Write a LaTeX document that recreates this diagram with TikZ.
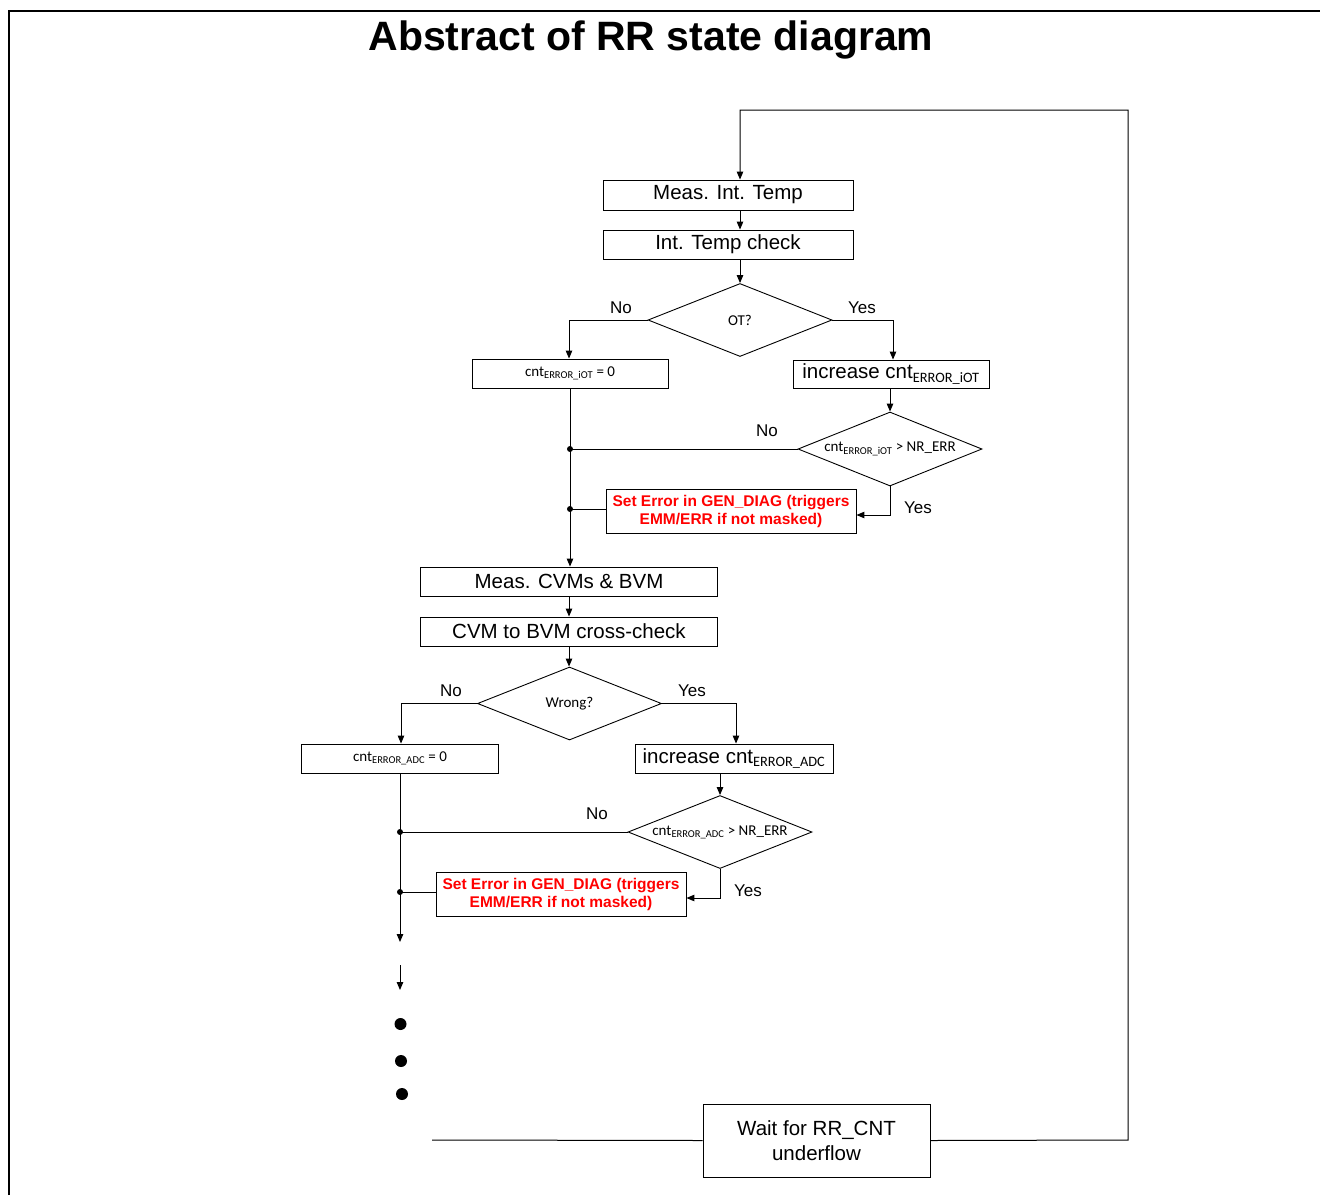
\documentclass[tikz,border=0pt]{standalone}
\usepackage{fontspec}
\setmainfont{Liberation Sans}
\newfontfamily\carl{Carlito}
\usetikzlibrary{shapes.geometric,arrows.meta}
\begin{document}
\begin{tikzpicture}[x=1pt,y=-1pt,
  line width=1pt,
  arr/.style={-{Triangle[length=8pt,width=6.5pt]}},
  box/.style={draw, line width=0.9pt, rectangle, inner sep=0pt, font=\fontsize{20.5}{25}\selectfont, align=center},
  smallbox/.style={box, font=\carl\fontsize{15}{18}\selectfont},
  errbox/.style={draw, line width=0.9pt, rectangle, inner sep=0pt, text=red, font=\bfseries\fontsize{15.5}{18}\selectfont, align=center, minimum width=250pt, minimum height=44pt},
  dia/.style={draw, diamond, aspect=2.5, line width=0.9pt, inner sep=0pt, minimum width=184pt, minimum height=73pt, font=\carl\fontsize{15}{18}\selectfont},
  lab/.style={font=\fontsize{17}{20}\selectfont},
  jdot/.style={circle, fill=black, inner sep=0pt, minimum size=6pt},
  bigdot/.style={circle, fill=black, inner sep=0pt, minimum size=12pt}]
\useasboundingbox (0,0) rectangle (1320,1195);
\draw[line width=2.5pt] (9,1195) -- (9,11) -- (1320,11);
\node[font=\bfseries\fontsize{41}{48}\selectfont] (title) at (651,40) {Abstract of RR state diagram};

% nodes
\node[box, minimum width=250pt, minimum height=30pt] (m1) at (728,195) {Meas. Int. Temp};
\node[box, minimum width=250pt, minimum height=29pt] (m2) at (728,244.5) {Int. Temp check};
\node[dia] (d1) at (740,320) {OT?};
\node[smallbox, minimum width=196pt, minimum height=29pt] (c1) at (570,373.5) {cnt\textsubscript{ERROR\_iOT} = 0};
\node[box, minimum width=196pt, minimum height=28pt] (i1) at (891,374) {increase cnt\textsubscript{\carl ERROR\_iOT}};
\node[dia, minimum height=74pt] (d2) at (890,449) {cnt\textsubscript{ERROR\_iOT} > NR\_ERR};
\node[errbox] (e1) at (731,511) {Set Error in GEN\_DIAG (triggers\\EMM/ERR if not masked)};
\node[box, minimum width=297pt, minimum height=29pt] (b3) at (569,581.5) {Meas. CVMs \& BVM};
\node[box, minimum width=297pt, minimum height=29pt] (b4) at (569,631.5) {CVM to BVM cross-check};
\node[dia] (d3) at (569.5,703.5) {Wrong?};
\node[smallbox, minimum width=197pt, minimum height=29pt] (c2) at (400,758.5) {cnt\textsubscript{ERROR\_ADC} = 0};
\node[box, minimum width=198pt, minimum height=29pt] (i2) at (734,758.5) {increase cnt\textsubscript{\carl ERROR\_ADC}};
\node[dia] (d4) at (720,832) {cnt\textsubscript{ERROR\_ADC} > NR\_ERR};
\node[errbox] (e2) at (561,894.5) {Set Error in GEN\_DIAG (triggers\\EMM/ERR if not masked)};
\node[box, minimum width=227pt, minimum height=73pt] (w) at (816.5,1140.5) {Wait for RR\_CNT\\underflow};

% labels
\node[lab] (n1) at (621,308) {No};
\node[lab] (y1) at (862,308) {Yes};
\node[lab] (n2) at (767,431) {No};
\node[lab] (y2) at (918,508) {Yes};
\node[lab] (n3) at (451,691) {No};
\node[lab] (y3) at (692,691) {Yes};
\node[lab] (n4) at (597,814) {No};
\node[lab] (y4) at (748,891) {Yes};

% loop coordinates
\coordinate (lx) at (740,110);
\coordinate (lr) at (1128,110);
\coordinate (lb) at (1128,1140);
\coordinate (wl) at (432,1140);
\coordinate (t1) at (400,942);
\coordinate (a2s) at (400,965);
\coordinate (a2e) at (400,990);

% connectors
\draw[arr] (w.east) -- (lb) -- (lr) -- (lx) -- (m1.north -| lx);
\draw[arr] (m1.south -| lx) -- (m2.north -| lx);
\draw[arr] (m2.south -| lx) -- (d1.north);
\draw[arr] (d1.west) -| ([xshift=-1pt]c1.north);
\draw[arr] (d1.east) -| ([xshift=2pt]i1.north);
\draw[arr] (i1.south -| d2.north) -- (d2.north);
\draw (d2.west) -- (d2.west -| c1.south) node[jdot] (j1) {};
\draw[arr] (d2.south) |- ([yshift=-4pt]e1.east);
\draw ([yshift=2pt]e1.west) -- ([yshift=2pt]e1.west -| c1.south) node[jdot] (j2) {};
\draw[arr] (c1.south) -- (c1.south |- b3.north);
\draw[arr] (b3.south) -- (b4.north);
\draw[arr] (b4.south) -- (b4.south |- d3.north);
\draw[arr] (d3.west) -| ([xshift=1pt]c2.north);
\draw[arr] (d3.east) -| ([xshift=2pt]i2.north);
\draw[arr] (i2.south -| d4.north) -- (d4.north);
\draw (d4.west) -- (d4.west -| c2.south) node[jdot] (j3) {};
\draw[arr] (d4.south) |- ([yshift=-3.5pt]e2.east);
\draw ([yshift=2.5pt]e2.west) -- ([yshift=2.5pt]e2.west -| c2.south) node[jdot] (j4) {};
\draw[arr] (c2.south) -- (t1);
\draw[arr] (a2s) -- (a2e);
\node[bigdot] (p1) at (400.5,1024) {};
\node[bigdot] (p2) at (401,1061) {};
\node[bigdot] (p3) at (402,1094) {};
\draw (wl) -- (w.west);
\end{tikzpicture}
\end{document}
